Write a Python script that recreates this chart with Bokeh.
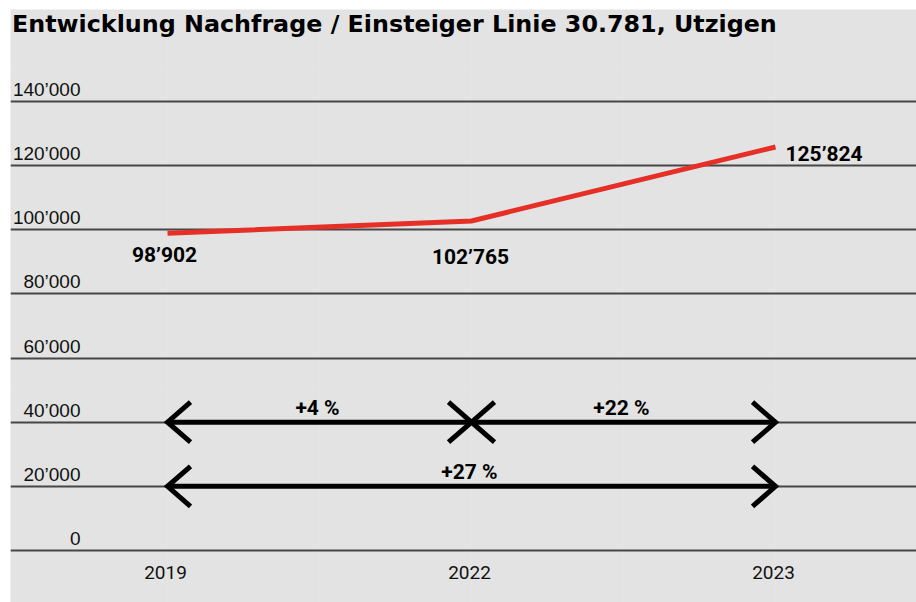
from bokeh.plotting import figure
from bokeh.models import Range1d, FixedTicker, Grid
from bokeh.core.properties import value
from bokeh.embed import file_html
from bokeh.resources import INLINE

# ---- data ----
years = ["2019", "2022", "2023"]
passengers = [98902, 102765, 125824]
value_labels = ["98’902", "102’765", "125’824"]
y_ticks = [0, 20000, 40000, 60000, 80000, 100000, 120000, 140000]
y_tick_labels = ["0", "20’000", "40’000", "60’000", "80’000", "100’000", "120’000", "140’000"]
change_labels = ["+4 %", "+22 %", "+27 %"]
change_from = [0, 1, 0]
change_to = [1, 2, 2]
change_level = [40000, 40000, 20000]
title = "Entwicklung Nachfrage / Einsteiger Linie 30.781, Utzigen"

# ---- layout constants ----
W, H = 916, 602
LEFT, TOP = 10, 9
PX_PER_X = 304.0            # pixels per category step
PX_PER_Y = 449.0 / 140000   # pixels per unit of value
FRAME_W, FRAME_H = W - LEFT, H - TOP
X0_PX = 167 - LEFT          # pixels from frame left to first category
Y0_PX = H - 550             # pixels from frame bottom to zero line
x_start = -X0_PX / PX_PER_X
x_end = x_start + FRAME_W / PX_PER_X
y_start = -Y0_PX / PX_PER_Y
y_end = y_start + FRAME_H / PX_PER_Y

BG = "#e2e3e2"
RED = "#e63027"
COND = "Roboto"

p = figure(width=W, height=H,
           x_range=Range1d(x_start, x_end), y_range=Range1d(y_start, y_end),
           x_axis_location=None, y_axis_location=None,
           output_backend="svg", toolbar_location=None,
           min_border_left=LEFT, min_border_top=TOP, min_border_right=0, min_border_bottom=0,
           background_fill_color=BG, border_fill_color="white",
           outline_line_color=None)

p.add_layout(Grid(dimension=1, ticker=FixedTicker(ticks=y_ticks),
                  grid_line_color="#474747", grid_line_width=2))

xs = list(range(len(years)))

# main line
p.line(xs, passengers, line_color=RED, line_width=5, line_join="miter")

# arrows
head_dx = 23 / PX_PER_X
head_dy = 20 / PX_PER_Y
p.segment(x0=change_from, y0=change_level, x1=change_to, y1=change_level,
          line_color="black", line_width=5)
hx, hy = [], []
for a, b, lv in zip(change_from, change_to, change_level):
    hx.append([a + head_dx, a, a + head_dx]); hy.append([lv + head_dy, lv, lv - head_dy])
    hx.append([b - head_dx, b, b - head_dx]); hy.append([lv + head_dy, lv, lv - head_dy])
p.multi_line(hx, hy, line_color="black", line_width=5, line_join="miter")

p.text(x=[(a + b) / 2 for a, b in zip(change_from, change_to)], y=change_level,
       text=change_labels, text_align="center", text_baseline="middle", y_offset=-14,
       x_offset=-2,
       text_font=value(COND), text_font_style="bold", text_font_size="21px", text_color="black")

# y tick labels
label_x = (80 - 167) / PX_PER_X
p.text(x=[label_x] * len(y_ticks), y=y_ticks, text=y_tick_labels,
       text_align="right", text_baseline="middle", y_offset=-12,
       text_font=value("Liberation Sans"), text_font_size="19px", text_color="#111111")

# x labels
p.text(x=xs, y=[0] * len(xs), text=years, text_align="center", text_baseline="middle",
       y_offset=22, x_offset=-2, text_font=value(COND), text_font_size="19px",
       text_color="#111111")

# value labels
p.text(x=xs[:2], y=passengers[:2], text=value_labels[:2], text_align="center",
       text_baseline="middle", y_offset=[22, 36], x_offset=[-3, -1],
       text_font=value(COND), text_font_style="bold", text_font_size="21px", text_color="black")
p.text(x=xs[2:], y=passengers[2:], text=value_labels[2:], text_align="left",
       text_baseline="middle", y_offset=7, x_offset=10,
       text_font=value(COND), text_font_style="bold", text_font_size="21px", text_color="black")

# title
p.text(x=[x_start + 1.5 / PX_PER_X], y=[(550 - 23.5) / PX_PER_Y], text=[title],
       text_align="left", text_baseline="middle",
       text_font=value("DejaVu Sans"), text_font_style="bold", text_font_size="23.8px",
       text_color="black")

open("out.html", "w").write(file_html(p, INLINE))
